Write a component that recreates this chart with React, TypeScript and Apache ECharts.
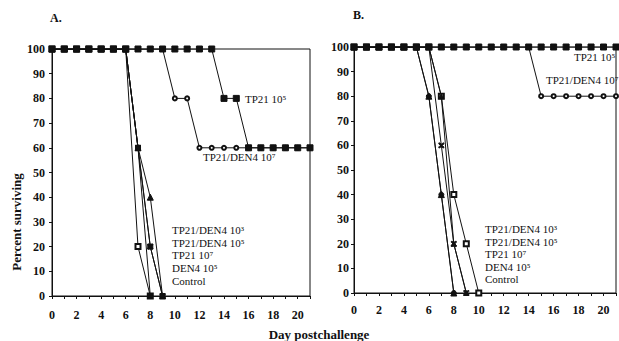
import React, { useEffect, useRef } from "react";
import * as echarts from "echarts";

// ---- shared axis data ----
const days = [0, 1, 2, 3, 4, 5, 6, 7, 8, 9, 10, 11, 12, 13, 14, 15, 16, 17, 18, 19, 20, 21];

// ---- Panel A values (percent surviving by day) ----
const aTP21_1e5 = [100, 100, 100, 100, 100, 100, 100, 100, 100, 100, 100, 100, 100, 100, 80, 80, 60, 60, 60, 60, 60, 60];
const aTD_1e7 = [100, 100, 100, 100, 100, 100, 100, 100, 100, 100, 80, 80, 60, 60, 60, 60, 60, 60, 60, 60, 60, 60];
const aTD_1e3 = [100, 100, 100, 100, 100, 100, 100, 20, 0];
const aTD_1e5 = [100, 100, 100, 100, 100, 100, 100, 60, 0];
const aTP21_1e7 = [100, 100, 100, 100, 100, 100, 100, 60, 20, 0];
const aDEN4_1e5 = [100, 100, 100, 100, 100, 100, 100, 60, 40, 0];
const aControl = [100, 100, 100, 100, 100, 100, 100, 60, 20, 0];

// ---- Panel B values ----
const bTP21_1e5 = [100, 100, 100, 100, 100, 100, 100, 100, 100, 100, 100, 100, 100, 100, 100, 100, 100, 100, 100, 100, 100, 100];
const bTD_1e7 = [100, 100, 100, 100, 100, 100, 100, 100, 100, 100, 100, 100, 100, 100, 100, 80, 80, 80, 80, 80, 80, 80];
const bTD_1e3 = [100, 100, 100, 100, 100, 100, 80, 40, 0];
const bTD_1e5 = [100, 100, 100, 100, 100, 100, 80, 40, 0];
const bTP21_1e7 = [100, 100, 100, 100, 100, 100, 100, 60, 20, 0];
const bDEN4_1e5 = [100, 100, 100, 100, 100, 100, 100, 80, 40, 20, 0];
const bControl = [100, 100, 100, 100, 100, 100, 100, 80, 20, 0];

const lowerLabels = ["TP21/DEN4 10³", "TP21/DEN4 10⁵", "TP21 10⁷", "DEN4 10⁵", "Control"];

const SERIF = '"Liberation Serif", "Times New Roman", "DejaVu Serif", serif';
const XMARK =
  "path://M0 0 L2 0 L5 3 L8 0 L10 0 L10 2 L7 5 L10 8 L10 10 L8 10 L5 7 L2 10 L0 10 L0 8 L3 5 L0 2Z";

const pairs = (vals: number[]) => vals.map((v, i) => [days[i], v]);

function line(name: string, vals: number[], idx: number, symbol: string, size: number, z: number) {
  return {
    type: "line",
    name,
    xAxisIndex: idx,
    yAxisIndex: idx,
    data: pairs(vals),
    symbol,
    symbolSize: size,
    showAllSymbol: true,
    z,
    lineStyle: { color: "#111", width: 1 },
    itemStyle: { color: "#111", borderColor: "#111", borderWidth: 1 },
  };
}

function xAxis(idx: number, margin: number) {
  return {
    type: "value",
    gridIndex: idx,
    min: 0,
    max: 21,
    interval: 2,
    axisLine: { show: true, lineStyle: { color: "#111", width: 1 } },
    axisTick: { show: true, length: 3, lineStyle: { color: "#111" } },
    minorTick: { show: true, splitNumber: 2, length: 3, lineStyle: { color: "#111" } },
    splitLine: { show: false },
    axisLabel: {
      margin,
      fontFamily: SERIF,
      fontWeight: "bold",
      fontSize: 12,
      color: "#111",
      formatter: (v: number) => (v > 20 ? "" : String(v)),
    },
  };
}

function yAxis(idx: number, margin: number) {
  return {
    type: "value",
    gridIndex: idx,
    min: 0,
    max: 100,
    interval: 10,
    axisLine: { show: true, lineStyle: { color: "#111", width: 1 } },
    axisTick: { show: true, length: 3, lineStyle: { color: "#111" } },
    splitLine: { show: false },
    axisLabel: { margin, fontFamily: SERIF, fontWeight: "bold", fontSize: 12, color: "#111" },
  };
}

function txt(x: number, y: number, text: string, extra: any = {}) {
  return {
    type: "text",
    x,
    y,
    style: {
      text,
      fontFamily: SERIF,
      fontSize: 11,
      fill: "#111",
      textVerticalAlign: "middle",
      ...extra,
    },
  };
}

export default function App() {
  const ref = useRef<HTMLDivElement>(null);
  useEffect(() => {
    if (!ref.current) return;
    const chart = echarts.init(ref.current, undefined, { renderer: "svg" });
    const bold = { fontWeight: "bold", fontSize: 13 };
    const graphics: any[] = [
      txt(50, 18, "A.", { fontWeight: "bold", fontSize: 12 }),
      txt(353, 15, "B.", { fontWeight: "bold", fontSize: 12 }),
      {
        type: "text",
        x: 16,
        y: 222,
        rotation: Math.PI / 2,
        style: {
          text: "Percent surviving",
          fontFamily: SERIF,
          fill: "#111",
          textAlign: "center",
          textVerticalAlign: "middle",
          ...bold,
        },
      },
      txt(319, 334, "Day postchallenge", { textAlign: "center", ...bold }),
      txt(245, 99, "TP21 10⁵"),
      txt(203, 157, "TP21/DEN4 10⁷"),
      txt(574, 57, "TP21 10⁵"),
      txt(546, 80, "TP21/DEN4 10⁷"),
    ];
    lowerLabels.forEach((t, i) => {
      graphics.push(txt(172, 230 + i * 12.7, t));
      graphics.push(txt(485, 229 + i * 12.6, t));
    });

    chart.setOption({
      animation: false,
      backgroundColor: "#fff",
      grid: [
        { left: 52, top: 49, width: 258, height: 247, show: true, borderColor: "#111", borderWidth: 1 },
        { left: 354, top: 47, width: 270, height: 246, show: true, borderColor: "#111", borderWidth: 1 },
      ],
      xAxis: [xAxis(0, 13), xAxis(1, 11)],
      yAxis: [yAxis(0, 7), yAxis(1, 5)],
      series: [
        line("A TP21/DEN4 10^3", aTD_1e3, 0, "emptyRect", 5, 2),
        line("A TP21/DEN4 10^5", aTD_1e5, 0, "circle", 5, 2),
        line("A TP21 10^7", aTP21_1e7, 0, "rect", 5, 2),
        line("A DEN4 10^5", aDEN4_1e5, 0, "triangle", 6, 2),
        line("A Control", aControl, 0, XMARK, 5, 2),
        line("A TP21/DEN4 10^7", aTD_1e7, 0, "emptyCircle", 4, 3),
        line("A TP21 10^5", aTP21_1e5, 0, "rect", 6, 4),
        line("B TP21/DEN4 10^3", bTD_1e3, 1, "triangle", 6, 2),
        line("B TP21/DEN4 10^5", bTD_1e5, 1, "circle", 5, 2),
        line("B TP21 10^7", bTP21_1e7, 1, XMARK, 5, 2),
        line("B DEN4 10^5", bDEN4_1e5, 1, "emptyRect", 5, 2),
        line("B Control", bControl, 1, "triangle", 5, 2),
        line("B TP21/DEN4 10^7", bTD_1e7, 1, "emptyCircle", 4, 3),
        line("B TP21 10^5", bTP21_1e5, 1, "rect", 6, 4),
      ],
      graphic: graphics,
    });
    return () => chart.dispose();
  }, []);
  return (
    <div
      ref={ref}
      style={{ position: "fixed", left: 0, top: 0, width: 619, height: 341, background: "#fff" }}
    />
  );
}
